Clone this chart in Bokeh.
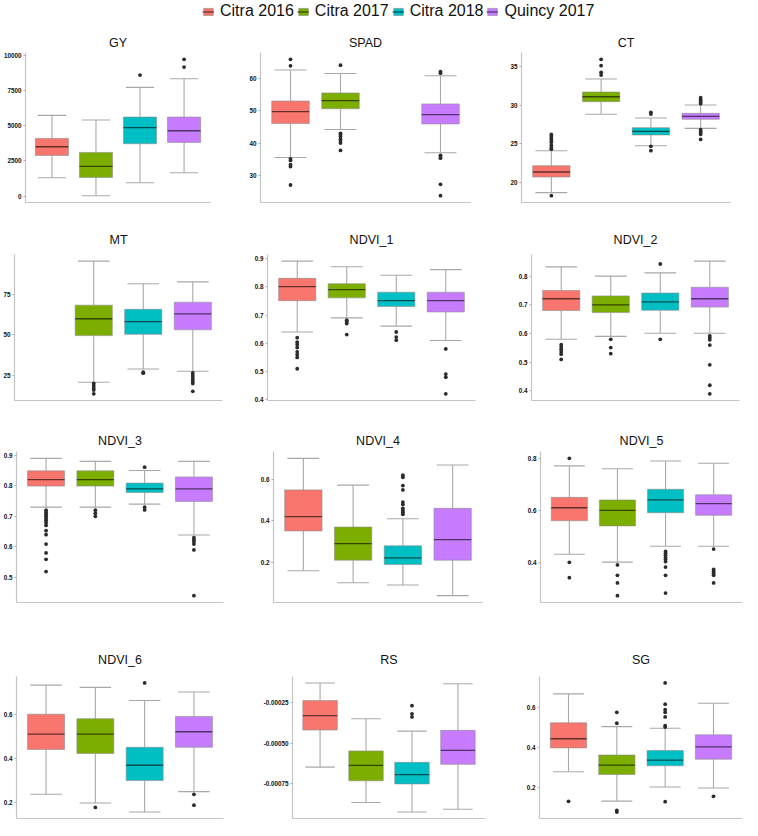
from bokeh.plotting import figure
from bokeh.models import Range1d, FixedTicker, ColumnDataSource, Legend, LegendItem
from bokeh.layouts import column, row
from bokeh.embed import file_html
from bokeh.resources import INLINE

groups = ["Citra 2016", "Citra 2017", "Citra 2018", "Quincy 2017"]
colors = ["#F8766D", "#7CAE00", "#00BFC4", "#C77CFF"]

# each group: [lower whisker, Q1, median, Q3, upper whisker]; None = group absent
GY_stats = [[1306, 2900, 3515, 4110, 5750], [30, 1330, 2115, 3110, 5415],
            [950, 3730, 4870, 5630, 7745], [1660, 3825, 4655, 5630, 8360]]
GY_out = [[], [], [8620], [9190, 9740]]
GY_ticks = [0, 2500, 5000, 7500, 10000]

SPAD_stats = [[35.5, 46.0, 49.7, 53.0, 62.6], [44.2, 50.6, 53.1, 55.5, 61.5],
              None, [37.0, 45.9, 48.8, 52.1, 60.8]]
SPAD_out = [[65.9, 63.9, 35.1, 34.6, 33.3, 32.7, 27.0],
            [64.1, 43.0, 42.5, 42.0, 41.2, 40.6, 40.0, 37.7], [],
            [62.1, 61.6, 36.2, 35.7, 35.3, 27.2, 23.7]]
SPAD_ticks = [30, 40, 50, 60]

CT_stats = [[18.66, 20.69, 21.34, 22.16, 24.1], [28.82, 30.46, 31.1, 31.71, 33.4],
            [24.75, 26.14, 26.61, 27.09, 28.34], [27.0, 28.17, 28.56, 28.95, 30.03]]
CT_out = [[26.2, 26.0, 25.75, 25.5, 25.2, 24.8, 24.5, 24.3, 18.27],
          [35.95, 35.13, 34.27, 33.92], [29.08, 28.86, 24.67, 24.1],
          [30.98, 30.72, 30.55, 30.37, 30.2, 26.83, 26.6, 26.44, 26.22, 25.57]]
CT_ticks = [20, 25, 30, 35]

MT_stats = [None, [20.6, 49.4, 59.8, 68.2, 95.4], [28.8, 50.2, 58.0, 65.6, 81.4],
            [27.4, 53.0, 62.8, 70.0, 82.6]]
MT_out = [[], [19.8, 18.4, 17.0, 15.8, 13.4], [26.8, 26.2],
          [26.4, 25.0, 23.8, 22.4, 21.0, 19.8, 15.0]]
MT_ticks = [25, 50, 75]

NDVI1_stats = [[0.640, 0.751, 0.801, 0.830, 0.891], [0.690, 0.761, 0.790, 0.811, 0.871],
               [0.661, 0.730, 0.751, 0.781, 0.841], [0.610, 0.711, 0.751, 0.781, 0.861]]
NDVI1_out = [[0.62, 0.604, 0.595, 0.585, 0.57, 0.56, 0.55, 0.51], [0.682, 0.677, 0.670, 0.631],
             [0.640, 0.622, 0.611], [0.580, 0.491, 0.480, 0.421]]
NDVI1_ticks = [0.4, 0.5, 0.6, 0.7, 0.8, 0.9]

NDVI2_stats = [[0.580, 0.680, 0.721, 0.750, 0.832], [0.590, 0.673, 0.700, 0.731, 0.800],
               [0.601, 0.681, 0.710, 0.741, 0.811], [0.601, 0.692, 0.721, 0.761, 0.852]]
NDVI2_out = [[0.561, 0.553, 0.545, 0.537, 0.528, 0.510], [0.580, 0.551, 0.530], [0.842, 0.580],
             [0.592, 0.585, 0.578, 0.560, 0.491, 0.420, 0.390]]
NDVI2_ticks = [0.4, 0.5, 0.6, 0.7, 0.8]

NDVI3_stats = [[0.730, 0.799, 0.820, 0.849, 0.890], [0.730, 0.799, 0.820, 0.849, 0.880],
               [0.740, 0.778, 0.790, 0.809, 0.850], [0.639, 0.749, 0.790, 0.829, 0.880]]
NDVI3_out = [[0.720, 0.713, 0.707, 0.700, 0.693, 0.687, 0.679, 0.670, 0.653, 0.640, 0.609,
              0.580, 0.559, 0.519], [0.720, 0.710, 0.700], [0.861, 0.730, 0.721],
             [0.630, 0.623, 0.617, 0.609, 0.590, 0.440]]
NDVI3_ticks = [0.5, 0.6, 0.7, 0.8, 0.9]

NDVI4_stats = [[0.160, 0.352, 0.421, 0.550, 0.702], [0.102, 0.211, 0.291, 0.371, 0.573],
               [0.091, 0.190, 0.222, 0.280, 0.411], [0.040, 0.211, 0.310, 0.461, 0.670]]
NDVI4_out = [[], [], [0.621, 0.611, 0.571, 0.550, 0.491, 0.480, 0.461, 0.451, 0.442, 0.432], []]
NDVI4_ticks = [0.2, 0.4, 0.6]

NDVI5_stats = [[0.431, 0.560, 0.610, 0.650, 0.771], [0.401, 0.540, 0.600, 0.640, 0.760],
               [0.462, 0.591, 0.640, 0.681, 0.790], [0.462, 0.581, 0.626, 0.660, 0.781]]
NDVI5_out = [[0.800, 0.400, 0.341], [0.390, 0.350, 0.321, 0.272],
             [0.442, 0.435, 0.427, 0.419, 0.412, 0.403, 0.382, 0.350, 0.282],
             [0.451, 0.373, 0.365, 0.358, 0.350, 0.321]]
NDVI5_ticks = [0.4, 0.6, 0.8]

NDVI6_stats = [[0.239, 0.441, 0.510, 0.600, 0.731], [0.200, 0.423, 0.510, 0.580, 0.721],
               [0.159, 0.301, 0.370, 0.451, 0.662], [0.251, 0.451, 0.521, 0.590, 0.700]]
NDVI6_out = [[], [0.180], [0.741], [0.239, 0.190]]
NDVI6_ticks = [0.2, 0.4, 0.6]

RS_stats = [[-0.000647, -0.000420, -0.000332, -0.000240, -0.000132],
            [-0.000864, -0.000731, -0.000637, -0.000548, -0.000351],
            [-0.000922, -0.000750, -0.000693, -0.000618, -0.000427],
            [-0.000905, -0.000630, -0.000544, -0.000422, -0.000137]]
RS_out = [[], [], [-0.000271, -0.000321, -0.000340], []]
RS_ticks = [-0.00075, -0.0005, -0.00025]
RS_ticklabels = ["-0.00075", "-0.00050", "-0.00025"]

SG_stats = [[0.277, 0.397, 0.443, 0.523, 0.669], [0.129, 0.263, 0.310, 0.361, 0.504],
            [0.200, 0.307, 0.335, 0.384, 0.496], [0.195, 0.340, 0.402, 0.463, 0.622]]
SG_out = [[0.128], [0.576, 0.521, 0.082, 0.074],
          [0.724, 0.617, 0.589, 0.576, 0.553, 0.509, 0.502, 0.126], [0.153]]
SG_ticks = [0.2, 0.4, 0.6]

panels = [
    ("GY", GY_stats, GY_out, GY_ticks, None),
    ("SPAD", SPAD_stats, SPAD_out, SPAD_ticks, None),
    ("CT", CT_stats, CT_out, CT_ticks, None),
    ("MT", MT_stats, MT_out, MT_ticks, None),
    ("NDVI_1", NDVI1_stats, NDVI1_out, NDVI1_ticks, None),
    ("NDVI_2", NDVI2_stats, NDVI2_out, NDVI2_ticks, None),
    ("NDVI_3", NDVI3_stats, NDVI3_out, NDVI3_ticks, None),
    ("NDVI_4", NDVI4_stats, NDVI4_out, NDVI4_ticks, None),
    ("NDVI_5", NDVI5_stats, NDVI5_out, NDVI5_ticks, None),
    ("NDVI_6", NDVI6_stats, NDVI6_out, NDVI6_ticks, None),
    ("RS", RS_stats, RS_out, RS_ticks, RS_ticklabels),
    ("SG", SG_stats, SG_out, SG_ticks, None),
]

# ---------------- layout (page pixel coordinates) ----------------
OFF = 8
W = 758 - 2 * OFF
col_edges = [OFF, 250, 500, 758 - OFF]
row_edges = [OFF, 32, 230, 432, 620, 836 - OFF]
frame_y = [(60, 210), (258, 408), (459, 610), (684, min(835, 836 - OFF - 2))]
title_cy = [48, 235, 445, 658]
frame_x = [[(19, 218), (268, 478), (529, 738)],
           [(20, 230), (275, 483), (539, 747)],
           [(21, 231), (281, 490), (548, 757)],
           [(21, 231), (300, 493), (547, 757)]]

BOX_LINE = "#8c8c8c"
WHISK = "#a8a8a8"
AXIS = "#c4c4c4"
FONT = "Liberation Sans"


def make_panel(name, stats, outs, ticks, ticklabels, ri, ci):
    c0, c1 = col_edges[ci], col_edges[ci + 1]
    r0, r1 = row_edges[ri + 1], row_edges[ri + 2]
    fx0, fx1 = frame_x[ri][ci]
    fy0, fy1 = frame_y[ri]
    fx1 = min(fx1, c1)
    vals = [v for s in stats if s for v in s] + [v for o in outs for v in o]
    lo, hi = min(vals), max(vals)
    pad = 0.05 * (hi - lo)
    p = figure(width=c1 - c0, height=r1 - r0, output_backend="svg", toolbar_location=None,
               x_range=Range1d(0.4, 4.6), y_range=Range1d(lo - pad, hi + pad),
               min_border_left=max(0, fx0 - c0), min_border_right=max(0, c1 - fx1),
               min_border_top=fy0 - r0, min_border_bottom=max(0, r1 - fy1))
    p.title.text = name
    p.title.align = "center"
    p.title.text_font = FONT
    p.title.text_font_size = "12.5px"
    p.title.text_font_style = "normal"
    p.title.text_color = "#111111"
    p.title.standoff = max(0, int(round(fy0 - title_cy[ri] - 7)))
    p.grid.visible = False
    p.outline_line_color = None
    p.background_fill_color = "white"
    p.border_fill_color = "white"
    # y axis
    yax = p.yaxis[0]
    yax.ticker = FixedTicker(ticks=ticks)
    labels = ticklabels if ticklabels else [f"{t:g}" for t in ticks]
    yax.major_label_overrides = {t: l for t, l in zip(ticks, labels)}
    yax.major_label_text_font = FONT
    yax.major_label_text_font_style = "bold"
    yax.major_label_text_font_size = "6.3px"
    yax.major_label_text_color = "#111111"
    yax.major_label_standoff = 2
    yax.major_tick_out = 2
    yax.major_tick_in = 0
    yax.major_tick_line_color = "#b0b0b0"
    yax.minor_tick_line_color = None
    yax.axis_line_color = AXIS
    yax.axis_line_width = 1.2
    # x axis: plain line
    xax = p.xaxis[0]
    xax.ticker = FixedTicker(ticks=[])
    xax.major_label_text_font_size = "0px"
    xax.major_label_standoff = 0
    xax.major_tick_line_color = None
    xax.minor_tick_line_color = None
    xax.major_tick_out = 0
    xax.axis_line_color = AXIS
    xax.axis_line_width = 1.2

    idx = [i for i, s in enumerate(stats) if s]
    xs = [i + 1 for i in idx]
    src = ColumnDataSource(dict(
        x=xs,
        xl=[x - 0.375 for x in xs], xr=[x + 0.375 for x in xs],
        cl=[x - 0.32 for x in xs], cr=[x + 0.32 for x in xs],
        low=[stats[i][0] for i in idx], q1=[stats[i][1] for i in idx],
        med=[stats[i][2] for i in idx], q3=[stats[i][3] for i in idx],
        high=[stats[i][4] for i in idx], color=[colors[i] for i in idx]))
    p.segment(x0="x", y0="q3", x1="x", y1="high", source=src, line_color=WHISK, line_width=1.1)
    p.segment(x0="x", y0="low", x1="x", y1="q1", source=src, line_color=WHISK, line_width=1.1)
    p.segment(x0="cl", y0="high", x1="cr", y1="high", source=src, line_color=WHISK, line_width=1.1)
    p.segment(x0="cl", y0="low", x1="cr", y1="low", source=src, line_color=WHISK, line_width=1.1)
    p.vbar(x="x", width=0.75, bottom="q1", top="q3", source=src, fill_color="color",
           line_color=BOX_LINE, line_alpha=0.6, line_width=1)
    p.segment(x0="xl", y0="med", x1="xr", y1="med", source=src, line_color="black",
              line_alpha=0.6, line_width=1.3)
    ox = [i + 1 for i, o in enumerate(outs) for _ in o]
    oy = [v for o in outs for v in o]
    p.scatter(ox, oy, size=3.8, fill_color="#2b2b2b", line_color=None)
    return p


rows = []
for ri in range(4):
    figs = [make_panel(*panels[ri * 3 + ci], ri, ci) for ci in range(3)]
    rows.append(row(*figs, spacing=0))

# legend strip (key renderers sit outside the visible range; only their legend glyphs show)
lh = row_edges[1] - row_edges[0]
lf = figure(width=W, height=lh, output_backend="svg", toolbar_location=None,
            x_range=Range1d(0, 1), y_range=Range1d(0, 1), x_axis_type=None, y_axis_type=None,
            min_border_left=0, min_border_right=0, min_border_top=0, min_border_bottom=0)
lf.grid.visible = False
lf.outline_line_color = None
items = []
for g, c in zip(groups, colors):
    s = ColumnDataSource(dict(x=[-5, -4], top=[-5, -5], bottom=[-6, -6]))
    r1 = lf.vbar(x="x", top="top", bottom="bottom", width=0.1, source=s, fill_color=c,
                 line_color=BOX_LINE, line_alpha=0.6)
    r2 = lf.line(x="x", y="top", source=s, line_color="black", line_alpha=0.6, line_width=1.2)
    items.append(LegendItem(label=g, renderers=[r1, r2]))
leg = Legend(items=items, orientation="horizontal", location=(205 - OFF + 5, 4),
             label_text_font=FONT, label_text_font_size="16px", label_text_color="#111111",
             glyph_width=12, glyph_height=9, label_standoff=6, spacing=3, padding=0,
             margin=0, border_line_color=None, background_fill_alpha=0)
lf.add_layout(leg)

layout = column(lf, *rows, spacing=0)
open("out.html", "w").write(file_html(layout, INLINE))
